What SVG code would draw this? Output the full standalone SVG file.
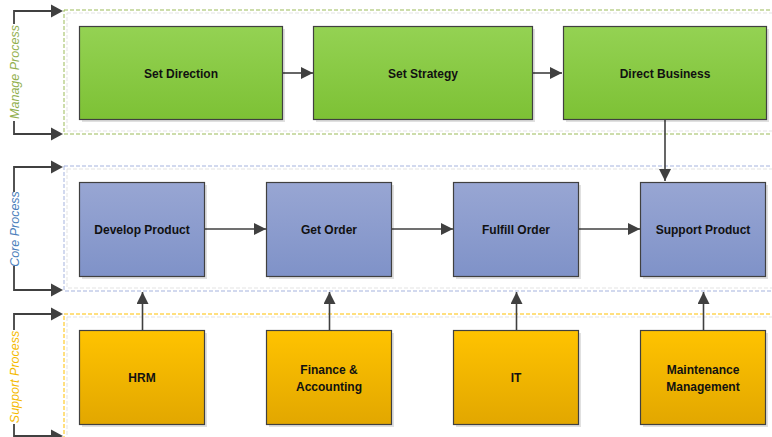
<svg xmlns="http://www.w3.org/2000/svg" width="772" height="437" viewBox="0 0 772 437">
<defs>
<linearGradient id="gGreen" x1="0" y1="0" x2="0" y2="1"><stop offset="0" stop-color="#94D253"/><stop offset="1" stop-color="#7DC135"/></linearGradient>
<linearGradient id="gBlue" x1="0" y1="0" x2="0" y2="1"><stop offset="0" stop-color="#98A6D3"/><stop offset="1" stop-color="#7F92C8"/></linearGradient>
<linearGradient id="gGold" x1="0" y1="0" x2="0" y2="1"><stop offset="0" stop-color="#FFC300"/><stop offset="1" stop-color="#E2A700"/></linearGradient>
<marker id="arrB" viewBox="0 0 10 10" refX="10" refY="5" markerWidth="12" markerHeight="12" markerUnits="userSpaceOnUse" orient="auto"><path d="M0,0 L10,5 L0,10 Z" fill="#404040"/></marker>
</defs>
<style>
.box{stroke:#404040;stroke-width:1.2}
.shadow{fill:#000;opacity:0.12}
.lbl{font-family:"Liberation Sans",Arial,sans-serif;font-weight:bold;font-size:12px;fill:#111;text-anchor:middle;dominant-baseline:central}
.lane{fill:none;stroke-width:1;stroke-dasharray:4 2}
.laneIn{fill:none;stroke:#E3E3E3;stroke-width:1;stroke-dasharray:4 2}
.conn{stroke:#404040;stroke-width:1.6;fill:none}
.brk{stroke:#404040;stroke-width:1.8;fill:none}
.head{fill:#404040}
.side{font-family:"Liberation Sans",Arial,sans-serif;font-style:italic;font-size:12.5px;text-anchor:middle;dominant-baseline:central}
</style>
<rect width="772" height="437" fill="#fff"/>

<g id="lanes">
<rect class="laneIn" x="67" y="13" width="720" height="118"/>
<rect class="lane" x="64" y="10" width="720" height="124" stroke="#9BBB59"/>
<rect class="laneIn" x="67" y="169" width="720" height="119"/>
<rect class="lane" x="64" y="166" width="720" height="125" stroke="#A5B3DE"/>
<rect class="laneIn" x="67" y="317" width="720" height="140"/>
<rect class="lane" x="64" y="314" width="720" height="150" stroke="#FFC000"/>
</g>

<g id="brackets">
<path class="brk" d="M52,11 H14 V134 H52"/>
<path class="head" d="M51,4.5 L63,11 L51,17.5 Z"/>
<path class="head" d="M51,127.5 L63,134 L51,140.5 Z"/>
<path class="brk" d="M52,167 H14 V290 H52"/>
<path class="head" d="M51,160.5 L63,167 L51,173.5 Z"/>
<path class="head" d="M51,283.5 L63,290 L51,296.5 Z"/>
<path class="brk" d="M52,314 H14 V445"/>
<path class="head" d="M51,307.5 L63,314 L51,320.5 Z"/>
<path class="brk" d="M14,436 H52"/>
<path class="head" d="M51,429.5 L63,436 L51,442.5 Z"/>
<rect x="7" y="24" width="16" height="97" fill="#fff"/>
<text class="side" transform="translate(15,72) rotate(-90)" fill="#92B04F">Manage Process</text>
<rect x="7" y="192" width="16" height="74" fill="#fff"/>
<text class="side" transform="translate(15,229) rotate(-90)" fill="#4A7EBB">Core Process</text>
<rect x="7" y="330" width="16" height="94" fill="#fff"/>
<text class="side" transform="translate(15,377) rotate(-90)" fill="#F5BA00">Support Process</text>
</g>

<g id="connectors">
<line class="conn" x1="282" y1="73" x2="313" y2="73" marker-end="url(#arrB)"/>
<line class="conn" x1="532" y1="73" x2="562" y2="73" marker-end="url(#arrB)"/>
<line class="conn" x1="665" y1="120" x2="665" y2="181" marker-end="url(#arrB)"/>
<line class="conn" x1="205" y1="229" x2="266" y2="229" marker-end="url(#arrB)"/>
<line class="conn" x1="392" y1="229" x2="453" y2="229" marker-end="url(#arrB)"/>
<line class="conn" x1="579" y1="229" x2="640" y2="229" marker-end="url(#arrB)"/>
<line class="conn" x1="142.5" y1="330" x2="142.5" y2="292" marker-end="url(#arrB)"/>
<line class="conn" x1="329.5" y1="330" x2="329.5" y2="292" marker-end="url(#arrB)"/>
<line class="conn" x1="516.5" y1="330" x2="516.5" y2="292" marker-end="url(#arrB)"/>
<line class="conn" x1="703.5" y1="330" x2="703.5" y2="292" marker-end="url(#arrB)"/>
</g>

<g id="setDirection">
<rect class="shadow" x="82" y="29" width="203" height="93"/>
<rect class="box" x="79.5" y="26.5" width="203" height="93" fill="url(#gGreen)"/>
<text class="lbl" x="181" y="73.5">Set Direction</text>
</g>
<g id="setStrategy">
<rect class="shadow" x="316" y="29" width="219" height="93"/>
<rect class="box" x="313.5" y="26.5" width="219" height="93" fill="url(#gGreen)"/>
<text class="lbl" x="423" y="73.5">Set Strategy</text>
</g>
<g id="directBusiness">
<rect class="shadow" x="566" y="29" width="203" height="93"/>
<rect class="box" x="563.5" y="26.5" width="203" height="93" fill="url(#gGreen)"/>
<text class="lbl" x="665" y="73.5">Direct Business</text>
</g>

<g id="developProduct">
<rect class="shadow" x="82" y="185" width="125" height="94"/>
<rect class="box" x="79.5" y="182.5" width="125" height="94" fill="url(#gBlue)"/>
<text class="lbl" x="142" y="229.5">Develop Product</text>
</g>
<g id="getOrder">
<rect class="shadow" x="269" y="185" width="125" height="94"/>
<rect class="box" x="266.5" y="182.5" width="125" height="94" fill="url(#gBlue)"/>
<text class="lbl" x="329" y="229.5">Get Order</text>
</g>
<g id="fulfillOrder">
<rect class="shadow" x="456" y="185" width="125" height="94"/>
<rect class="box" x="453.5" y="182.5" width="125" height="94" fill="url(#gBlue)"/>
<text class="lbl" x="516" y="229.5">Fulfill Order</text>
</g>
<g id="supportProduct">
<rect class="shadow" x="643" y="185" width="125" height="94"/>
<rect class="box" x="640.5" y="182.5" width="125" height="94" fill="url(#gBlue)"/>
<text class="lbl" x="703" y="229.5">Support Product</text>
</g>

<g id="hrm">
<rect class="shadow" x="82" y="333" width="125" height="94"/>
<rect class="box" x="79.5" y="330.5" width="125" height="94" fill="url(#gGold)"/>
<text class="lbl" x="142" y="378">HRM</text>
</g>
<g id="finance">
<rect class="shadow" x="269" y="333" width="125" height="94"/>
<rect class="box" x="266.5" y="330.5" width="125" height="94" fill="url(#gGold)"/>
<text class="lbl" x="329" y="369.5">Finance &amp;</text>
<text class="lbl" x="329" y="386.5">Accounting</text>
</g>
<g id="it">
<rect class="shadow" x="456" y="333" width="125" height="94"/>
<rect class="box" x="453.5" y="330.5" width="125" height="94" fill="url(#gGold)"/>
<text class="lbl" x="516" y="378">IT</text>
</g>
<g id="maintenance">
<rect class="shadow" x="643" y="333" width="125" height="94"/>
<rect class="box" x="640.5" y="330.5" width="125" height="94" fill="url(#gGold)"/>
<text class="lbl" x="703" y="369.5">Maintenance</text>
<text class="lbl" x="703" y="386.5">Management</text>
</g>
</svg>
